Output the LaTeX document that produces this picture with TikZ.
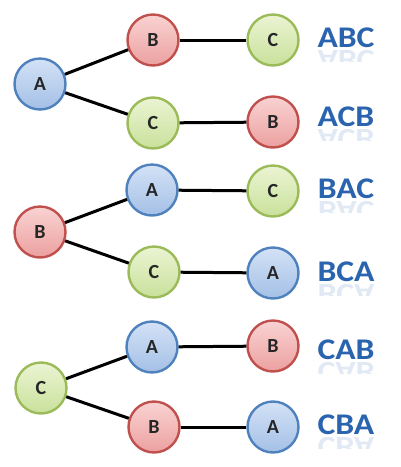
\documentclass[tikz,border=0pt]{standalone}
\usepackage{fontspec}
\setmainfont{Carlito}
\definecolor{bluebd}{HTML}{4F81BD}
\definecolor{bluetop}{HTML}{D3E2F6}
\definecolor{bluebot}{HTML}{A4C0E6}
\definecolor{redbd}{HTML}{C0504D}
\definecolor{redtop}{HTML}{F9D3D2}
\definecolor{redbot}{HTML}{EBA09F}
\definecolor{grnbd}{HTML}{9BBB59}
\definecolor{grntop}{HTML}{EBF4D3}
\definecolor{grnbot}{HTML}{C9E19B}
\definecolor{lblblue}{HTML}{2A63AE}
\tikzset{
  ball/.style={circle, minimum size=51pt, inner sep=0pt, line width=2.4pt,
    font=\fontsize{20}{20}\selectfont\bfseries, text=black!85},
  bA/.style={ball, draw=bluebd, top color=bluetop, bottom color=bluebot},
  bB/.style={ball, draw=redbd, top color=redtop, bottom color=redbot},
  bC/.style={ball, draw=grnbd, top color=grntop, bottom color=grnbot},
  link/.style={line width=3pt, black},
  lbl/.style={anchor=base, inner sep=0pt, text=lblblue,
    font=\fontsize{30}{30}\selectfont\bfseries},
  refl/.style={anchor=base, inner sep=0pt, text=lblblue!14,
    font=\fontsize{30}{30}\selectfont\bfseries},
}
\newcommand{\permlabel}[3]{% name, baseline y, text
  \node[lbl] (#1) at (346,#2) {\scalebox{1.12}[1]{#3}};
  \begin{scope}
    \clip (310,#2+3) rectangle (385,#2+14);
    \node[refl] (#1r) at (346,#2+3) {\scalebox{1.12}[-1]{#3}};
  \end{scope}
}
\begin{document}
\begin{tikzpicture}[x=1pt,y=-1pt]
\useasboundingbox (0,0) rectangle (400,467);
% group 1
\node[bA] (r1) at (40,84) {A};
\node[bB] (m1a) at (153,40) {B};
\node[bC] (m1b) at (153,123) {C};
\node[bC] (e1a) at (273,40) {C};
\node[bB] (e1b) at (273,122) {B};
% group 2
\node[bB] (r2) at (40,232) {B};
\node[bA] (m2a) at (152,190) {A};
\node[bC] (m2b) at (154,272) {C};
\node[bC] (e2a) at (273,191) {C};
\node[bA] (e2b) at (273,273) {A};
% group 3
\node[bC] (r3) at (41,388) {C};
\node[bA] (m3a) at (152,347) {A};
\node[bB] (m3b) at (154,427) {B};
\node[bB] (e3a) at (273,346) {B};
\node[bA] (e3b) at (273,427) {A};
% links
\foreach \r/\a/\b/\ea/\eb in {r1/m1a/m1b/e1a/e1b, r2/m2a/m2b/e2a/e2b, r3/m3a/m3b/e3a/e3b}{
  \draw[link] (\r) -- (\a);
  \draw[link] (\r) -- (\b);
  \draw[link] (\a) -- (\ea);
  \draw[link] (\b) -- (\eb);
}
% labels
\permlabel{l1}{47}{ABC}
\permlabel{l2}{126}{ACB}
\permlabel{l3}{198}{BAC}
\permlabel{l4}{281}{BCA}
\permlabel{l5}{359}{CAB}
\permlabel{l6}{434}{CBA}
\end{tikzpicture}
\end{document}
